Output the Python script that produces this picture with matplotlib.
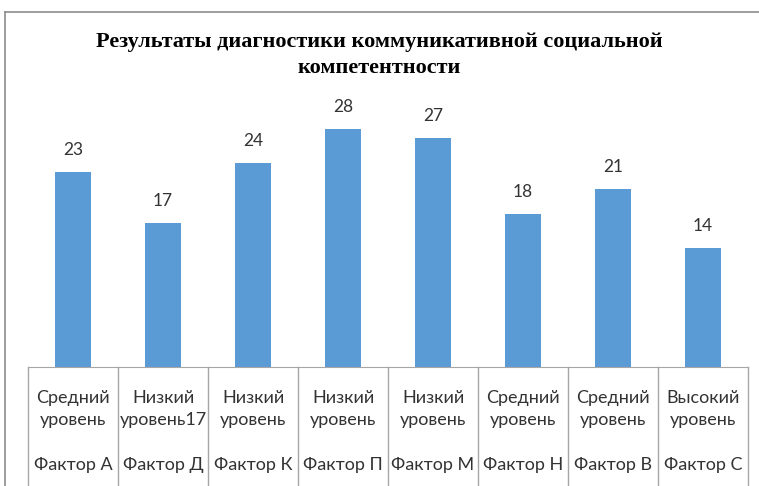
import matplotlib.pyplot as plt
from matplotlib.lines import Line2D

title = "Результаты диагностики коммуникативной социальной\nкомпетентности"
factors = ["Фактор А", "Фактор Д", "Фактор К", "Фактор П",
           "Фактор М", "Фактор Н", "Фактор В", "Фактор С"]
levels = ["Средний\nуровень", "Низкий\nуровень17", "Низкий\nуровень", "Низкий\nуровень",
          "Низкий\nуровень", "Средний\nуровень", "Средний\nуровень", "Высокий\nуровень"]
values = [23, 17, 24, 28, 27, 18, 21, 14]

W, H = 759, 486
fig = plt.figure(figsize=(W / 100, H / 100), dpi=100)

# outer chart frame (only top and left edges visible)
fig.add_artist(Line2D([5 / W, 1], [1 - 12 / H, 1 - 12 / H], color="#8c8c8c", lw=1.2))
fig.add_artist(Line2D([5 / W, 5 / W], [0, 1 - 12 / H], color="#8c8c8c", lw=1.2))

ax = fig.add_axes([28 / W, (H - 367) / H, 720 / W, 255 / H])
x = list(range(len(values)))
ax.bar(x, values, width=0.4, color="#5b9bd5")
ax.set_xlim(-0.5, len(values) - 0.5)
ax.set_ylim(0, 30)
for s in ["top", "right", "left"]:
    ax.spines[s].set_visible(False)
ax.spines["bottom"].set_color("#a6a6a6")
ax.set_xticks([])
ax.set_yticks([])

font = "Lato"
for i, v in enumerate(values):
    ax.annotate(str(v), (i, v), xytext=(0, 10), textcoords="offset points",
                ha="center", va="bottom", fontsize=12.5, family=font, color="#333333")

tr = ax.get_xaxis_transform()
for i in range(len(values) + 1):
    ax.plot([i - 0.5, i - 0.5], [0, -0.47], transform=tr, color="#a6a6a6",
            lw=1, clip_on=False)
for i in range(len(values)):
    ax.text(i, -0.165, levels[i], transform=tr, ha="center", va="center",
            fontsize=13, family=font, color="#333333", linespacing=1.45)
    ax.text(i, -0.385, factors[i], transform=tr, ha="center", va="center",
            fontsize=13, family=font, color="#333333")

fig.text(0.5, 1 - 55 / H, title, ha="center", va="center", fontsize=16,
         family="Liberation Serif", fontweight="bold", linespacing=1.4)

fig.savefig("out.png", dpi=100)
